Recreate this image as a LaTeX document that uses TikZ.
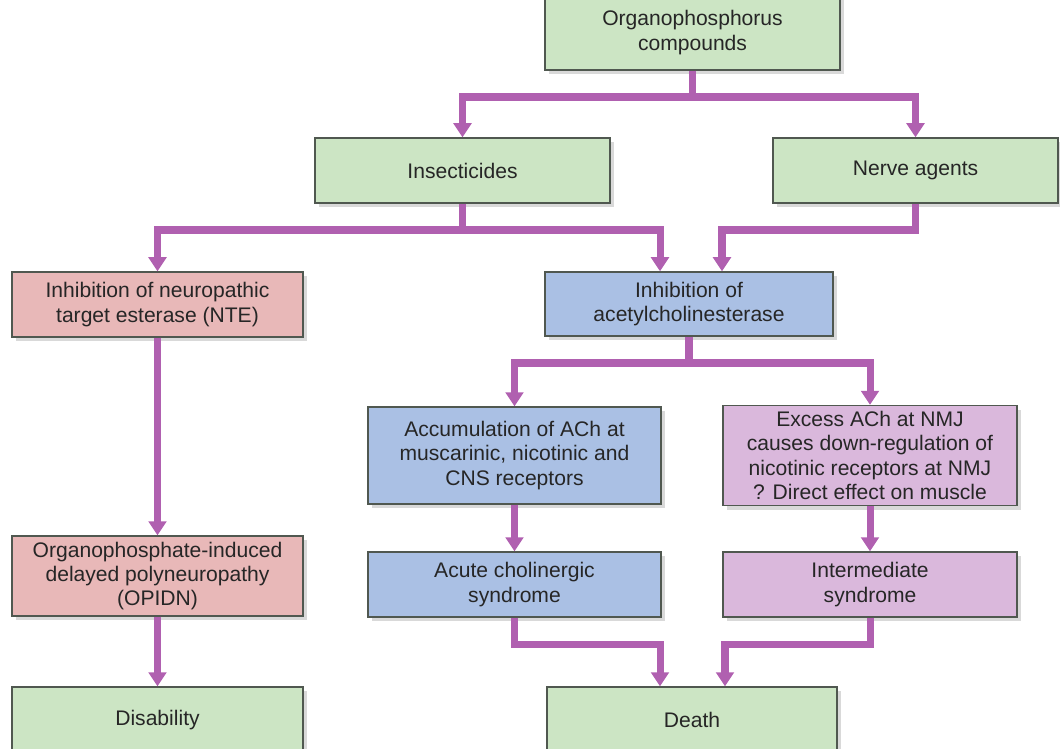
\documentclass[tikz,border=0pt]{standalone}
\usepackage{fontspec}
\setmainfont{Liberation Sans}
\usepackage{tikz}
\usetikzlibrary{shapes,arrows.meta,shadows}
\definecolor{boxgreen}{RGB}{204,229,196}
\definecolor{boxpink}{RGB}{232,184,184}
\definecolor{boxblue}{RGB}{170,192,228}
\definecolor{boxpurple}{RGB}{218,184,220}
\definecolor{linkcol}{RGB}{176,96,176}
\definecolor{edgecol}{RGB}{80,88,80}
\tikzstyle{block} = [rectangle, align=center, text centered, draw=edgecol, line width=0.8pt, text=black!85, drop shadow={shadow xshift=2.5pt, shadow yshift=-2.5pt, opacity=0.3}]
\tikzstyle{link} = [draw=linkcol, line width=4pt]

\begin{document}
\begin{tikzpicture}[x=0.02cm, y=-0.02cm, >={Triangle[width=10pt,length=8pt]}, font=\fontsize{12}{13.8}\selectfont]
\useasboundingbox (0,0) rectangle (1060,749);
\node [block, fill=boxgreen, minimum width=5.9cm, minimum height=1.5cm] (Organo) at (692.5,32.5) {Organophosphorus\\compounds};
\node [block, fill=boxgreen, minimum width=5.9cm, minimum height=1.3cm] (Insect) at (462.5,170.5) {Insecticides};
\node [block, fill=boxgreen, minimum width=5.7cm, minimum height=1.3cm] (Nerve) at (915.5,170.5) {Nerve agents};
\node [block, fill=boxpink, minimum width=5.82cm, minimum height=1.3cm] (NTE) at (157.5,304.5) {Inhibition of neuropathic\\target esterase (NTE)};
\node [block, fill=boxblue, minimum width=5.76cm, minimum height=1.28cm] (AChE) at (689,304) {Inhibition of\\acetylcholinesterase};
\node [block, fill=boxblue, minimum width=5.86cm, minimum height=1.94cm] (Accum) at (514.5,455.5) {Accumulation of ACh at\\muscarinic, nicotinic and\\CNS receptors};
\node [block, fill=boxpurple, minimum width=5.88cm, minimum height=1.94cm] (Excess) at (870,455.5) {Excess ACh at NMJ\\causes down-regulation of\\nicotinic receptors at NMJ\\? Direct effect on muscle};
\node [block, fill=boxpink, minimum width=5.82cm, minimum height=1.6cm] (OPIDN) at (157.5,576) {Organophosphate-induced\\delayed polyneuropathy\\(OPIDN)};
\node [block, fill=boxblue, minimum width=5.86cm, minimum height=1.3cm] (Acute) at (514.5,584.5) {Acute cholinergic\\syndrome};
\node [block, fill=boxpurple, minimum width=5.88cm, minimum height=1.3cm] (Inter) at (870,584.5) {Intermediate\\syndrome};
\node [block, fill=boxgreen, minimum width=5.82cm, minimum height=1.32cm] (Disab) at (157.5,720) {Disability};
\node [block, fill=boxgreen, minimum width=5.8cm, minimum height=1.32cm] (Death) at (692,720) {Death};

% branch points
\coordinate (split1) at (692.5,97);
\coordinate (split2) at (462.5,230);
\coordinate (join1) at (915.5,230);
\coordinate (split3) at (689,363);

\draw [link] (Organo.south) -- (split1);
\draw [link,->] (split1) -| (Insect.north);
\draw [link,->] (split1) -| (Nerve.north);

\draw [link] (Insect.south) -- (split2);
\draw [link,->] (split2) -| (NTE.north);
\draw [link,->] (split2) -| ([xshift=-0.58cm]AChE.north);
\draw [link,->] (Nerve.south) -- (join1) -| ([xshift=0.66cm]AChE.north);

\draw [link,->] (NTE) -- (OPIDN);
\draw [link,->] (OPIDN) -- (Disab);

\draw [link] (AChE.south) -- (split3);
\draw [link,->] (split3) -| (Accum.north);
\draw [link,->] (split3) -| (Excess.north);
\draw [link,->] (Accum) -- (Acute);
\draw [link,->] (Excess) -- (Inter);

\draw [link,->] (Acute.south) -- ++(0,27) -| ([xshift=-0.64cm]Death.north);
\draw [link,->] (Inter.south) -- ++(0,27) -| ([xshift=0.66cm]Death.north);

\end{tikzpicture}
\end{document}
